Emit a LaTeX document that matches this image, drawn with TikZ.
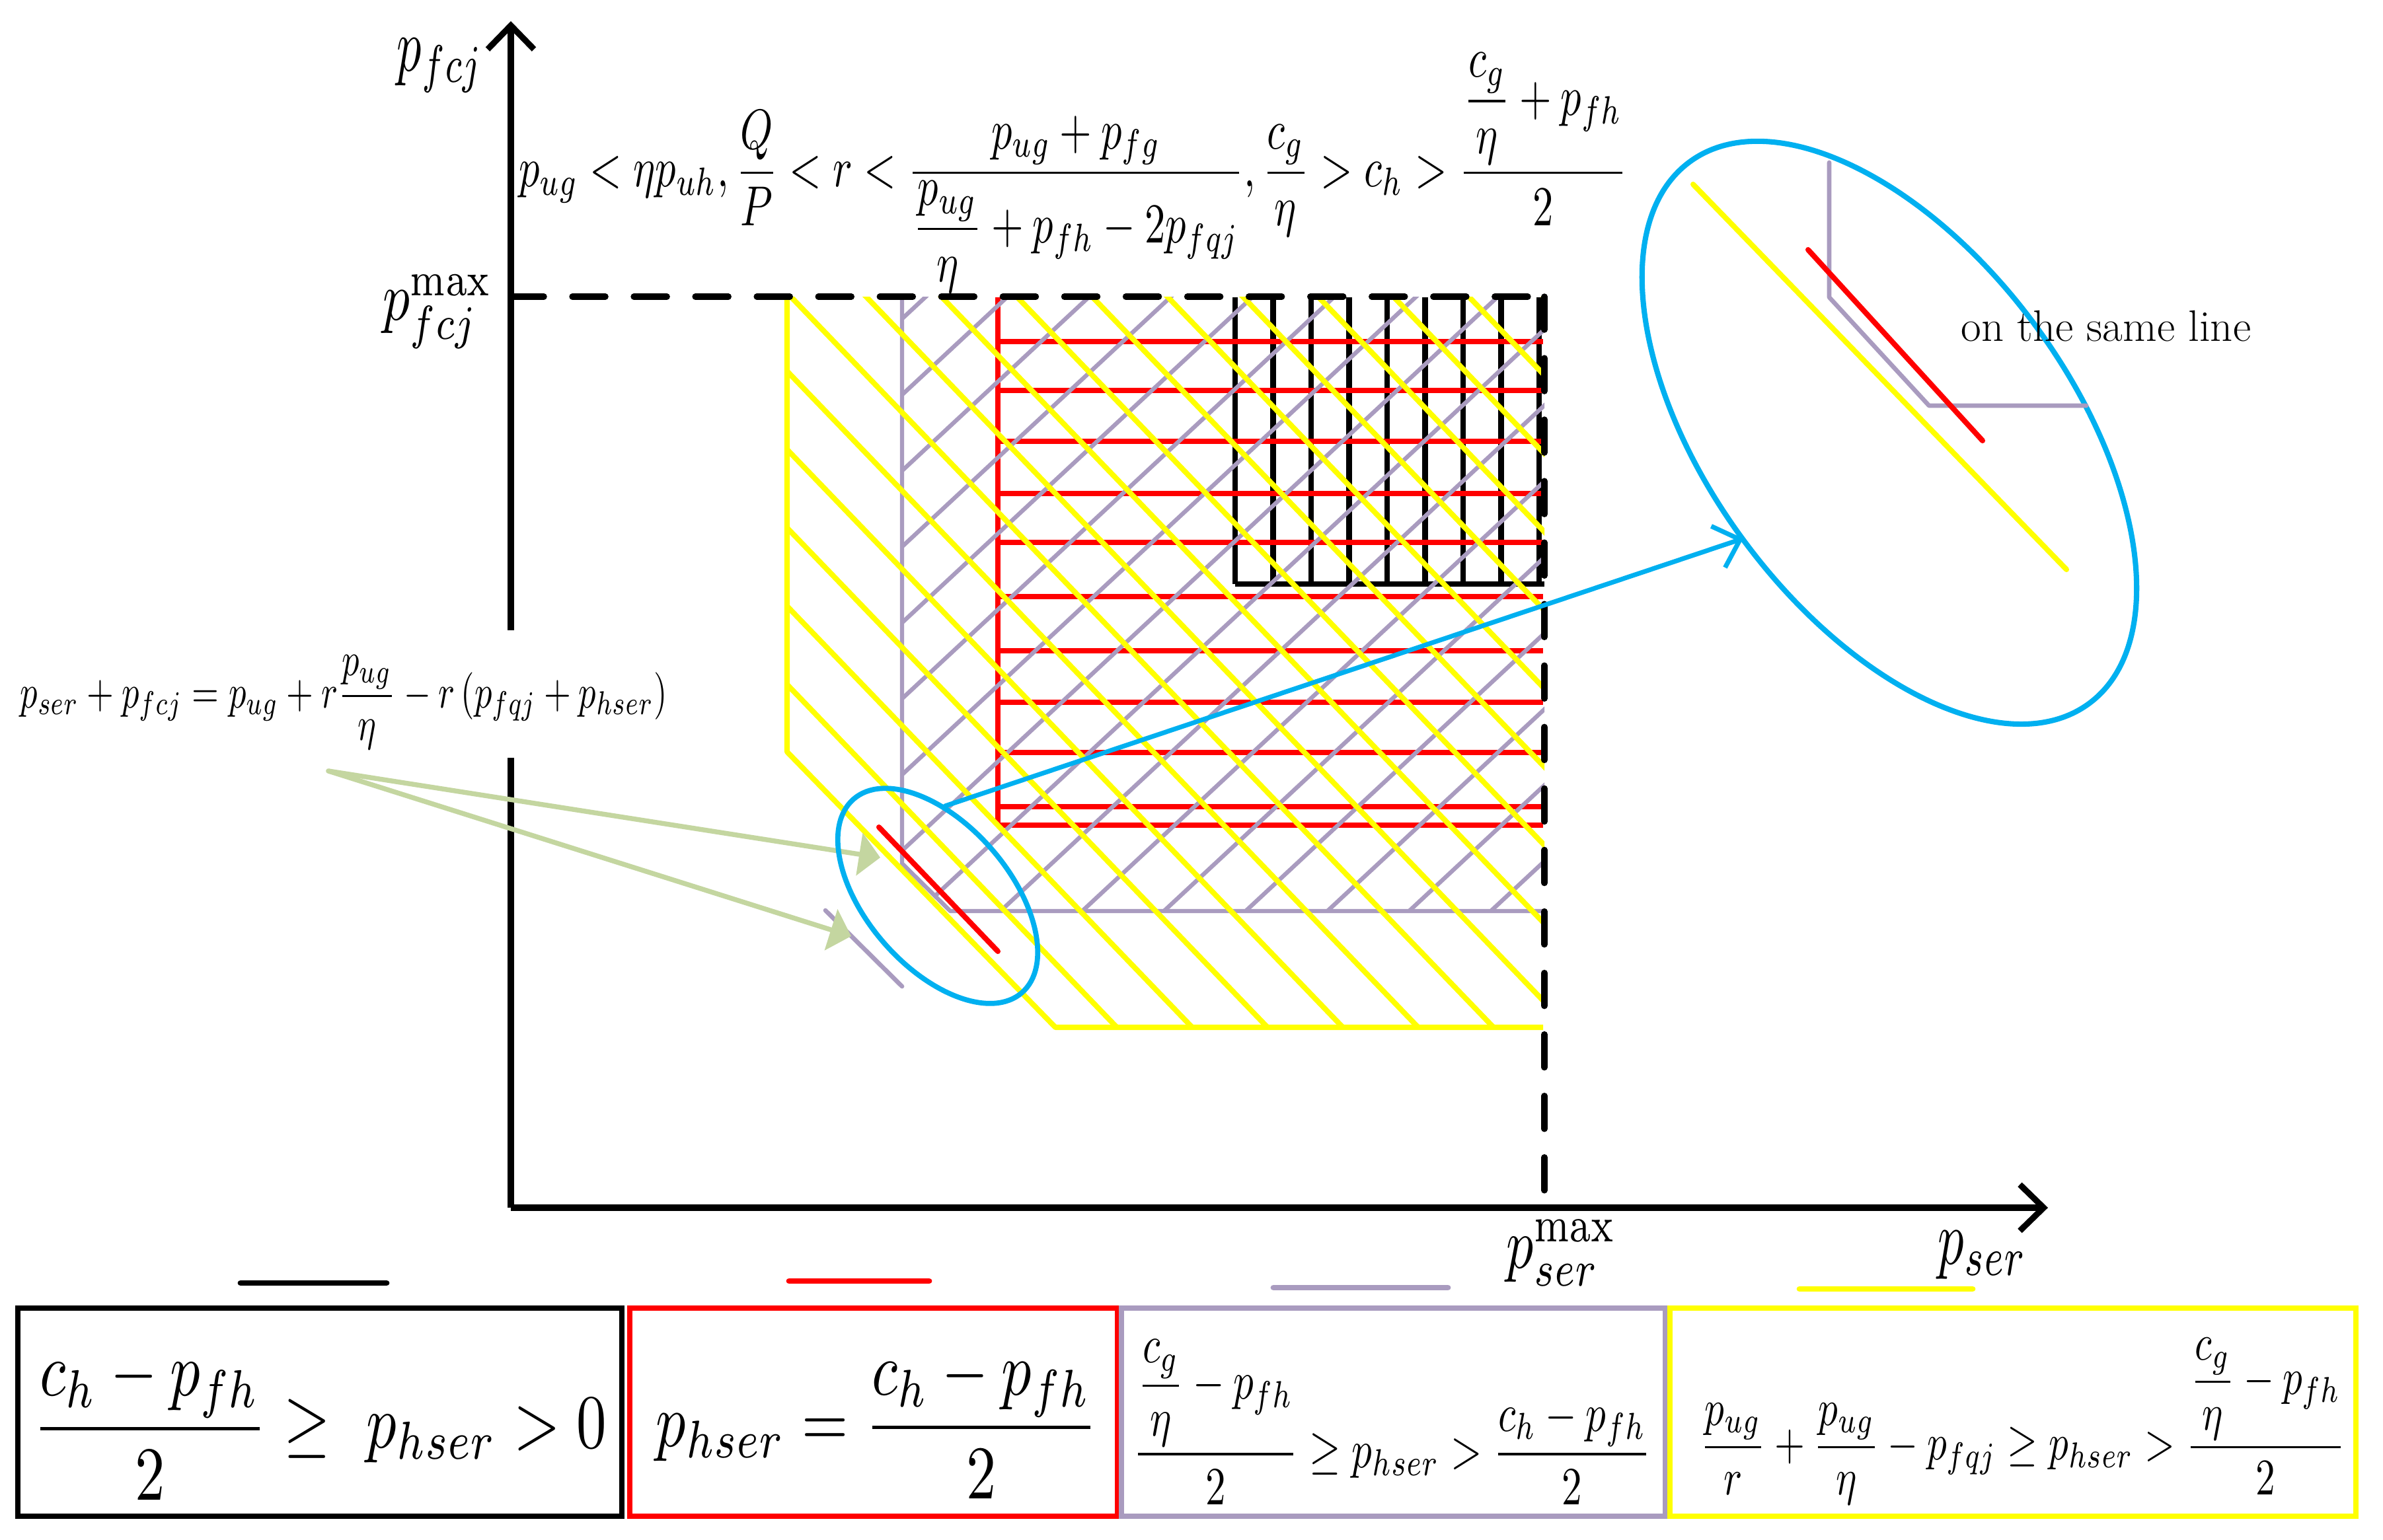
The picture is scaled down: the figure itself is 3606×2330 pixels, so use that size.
\documentclass[tikz,border=0pt]{standalone}
\usepackage{amsmath}
\usepackage{graphicx}
\usetikzlibrary{arrows.meta}
\definecolor{cpurple}{RGB}{169,155,191}
\definecolor{cyellow}{RGB}{255,255,0}
\definecolor{cred}{RGB}{255,0,0}
\definecolor{cblue}{RGB}{0,176,240}
\definecolor{cgreen}{RGB}{196,214,160}
\begin{document}
\begin{tikzpicture}[x=0.01cm,y=-0.01cm,
  axisline/.style={line width=2.6pt},
  dashline/.style={line width=2.7pt, dash pattern=on 0.5cm off 0.43cm, line cap=round},
  yhatch/.style={cyellow, line width=2.3pt},
  phatch/.style={cpurple, line width=1.8pt},
  rhatch/.style={cred, line width=2.2pt},
  khatch/.style={black, line width=2.3pt},
  blueline/.style={cblue, line width=2.2pt},
  greenarrow/.style={cgreen, line width=2.1pt, line cap=round, -{Triangle[length=0.32cm,width=0.64cm]}},
  legline/.style={line width=2.5pt, line cap=round},
  legbox/.style={line width=2.5pt},
  eqn/.style={inner sep=0pt, outer sep=0pt}
]
\fill[white] (0,0) rectangle (3606,2330);
\useasboundingbox (0,0) rectangle (3606,2330);

% ---------- black region ----------
\foreach \k in {0,...,8} {
  \draw[khatch] ({1869+57.5*\k},450) -- ({1869+57.5*\k},884);
}
\draw[khatch] (1869,884) -- (2337,884);

% ---------- red region ----------
\draw[rhatch] (1510,450) -- (1510,1249);
\foreach \yy in {517,591,668,747,821,903,985,1063,1139,1221,1249} {
  \draw[rhatch] (1510,\yy) -- (2335,\yy);
}

% ---------- purple region ----------
\begin{scope}
  \clip (1365,449) -- (1365,1307) -- (1438,1379) -- (2337,1379) -- (2337,449) -- cycle;
  \foreach \k in {-4,...,11} {
    \draw[phatch] (1300,{2212+115*\k-1209}) -- (2400,{2212+115*\k-2232});
  }
\end{scope}
\draw[phatch, line join=round] (1365,450) -- (1365,1307) -- (1438,1379) -- (2335,1379);

% ---------- yellow region ----------
\begin{scope}
  \clip (1191,449) -- (1191,1138) -- (1597,1555) -- (2337,1555) -- (2337,449) -- cycle;
  \foreach \k in {0,...,15} {
    \draw[yhatch] ({1690+114*\k+100},1659) -- ({1690+114*\k-1300},203);
  }
\end{scope}
\draw[yhatch, line join=round] (1191,450) -- (1191,1138) -- (1597,1555) -- (2335,1555);

% ---------- small marks in the small ellipse ----------
\draw[phatch, line width=1.9pt, line cap=round] (1249,1378) -- (1365,1493);
\draw[rhatch, line width=2.3pt, line cap=round] (1330,1252) -- (1510,1440);

% ---------- dashed limits ----------
\coordinate (dtl) at (773,449);
\coordinate (dtr) at (2337,449);
\coordinate (dbr) at (2337,1828);
\draw[dashline] (dtl) -- (dtr);
\draw[dashline] (dtr) -- (dbr);

% ---------- axes ----------
\coordinate (O) at (773,1828);
\coordinate (xend) at (3099,1828);
\coordinate (ytop) at (773,32);
\coordinate (gapb) at (773,1147);
\coordinate (gapt) at (773,954);
\draw[axisline, -{Straight Barb[length=0.36cm,width=0.70cm]}] (O) -- (xend);
\draw[axisline] (O) -- (gapb);
\draw[axisline, -{Straight Barb[length=0.36cm,width=0.70cm]}] (gapt) -- (ytop);

% ---------- axis labels ----------
\node[eqn] (lpf) at (666,99) {\resizebox*{1.30cm}{0.82cm}{$p_{fcj}$}};
\node[eqn] (lpfmax) at (662.5,472) {\resizebox*{1.65cm}{1.12cm}{$p_{fcj}^{\mathrm{max}}$}};
\node[eqn] (lpsmax) at (2363,1896.5) {\resizebox*{1.66cm}{0.99cm}{$p_{ser}^{\mathrm{max}}$}};
\node[eqn] (lps) at (3000,1899.5) {\resizebox*{1.34cm}{0.73cm}{$p_{ser}$}};

% ---------- top condition ----------
\node[eqn] (cond) at (1624,261.5) {\resizebox*{16.76cm}{3.63cm}{$\displaystyle p_{ug}<\eta p_{uh},\frac{Q}{P}<r<\frac{p_{ug}+p_{fg}}{\dfrac{p_{ug}}{\eta}+p_{fh}-2p_{fqj}},\frac{c_g}{\eta}>c_h>\frac{\dfrac{c_g}{\eta}+p_{fh}}{2}$}};

% ---------- line equation ----------
\node[eqn] (lineeq) at (520.5,1063) {\resizebox*{9.79cm}{1.42cm}{$\displaystyle p_{ser}+p_{fcj}=p_{ug}+r\frac{p_{ug}}{\eta}-r\left(p_{fqj}+p_{hser}\right)$}};

% ---------- green arrows ----------
\coordinate (gt) at (497,1167);
\coordinate (g1) at (1332,1298);
\coordinate (g2) at (1288,1417);
\draw[greenarrow] (gt) -- (g1);
\draw[greenarrow] (gt) -- (g2);

% ---------- ellipses ----------
\coordinate (se) at (1419,1356);
\coordinate (be) at (2859,655);
\draw[blueline, rotate around={-49:(se)}] (se) ellipse [x radius=1.94cm, y radius=1.08cm];
\draw[blueline, line width=2.3pt, rotate around={-53.6:(be)}] (be) ellipse [x radius=5.09cm, y radius=2.74cm];
\coordinate (bs) at (1430,1220);
\coordinate (bt) at (2638,815);
\draw[blueline, line width=2pt, line cap=round, -{Straight Barb[length=0.35cm,width=0.66cm]}] (bs) -- (bt);

% ---------- zoomed detail ----------
\draw[yhatch, line cap=round] (2562,279) -- (3127,862);
\draw[phatch, line width=1.9pt, line cap=round, line join=round] (2768,246) -- (2768,450) -- (2919,614) -- (3157,614);
\draw[rhatch, line width=2.3pt, line cap=round] (2736,378) -- (3000,667);
\node[eqn, font=\fontsize{19pt}{22pt}\selectfont] (same) at (3187,494) {on the same line};

% ---------- legend ----------
\draw[legline] (364,1942) -- (585,1942);
\draw[legline, cred] (1194,1939) -- (1406,1939);
\draw[legline, cpurple] (1927,1949) -- (2191,1949);
\draw[legline, cyellow] (2723,1951) -- (2985,1951);

\draw[legbox] (27,1980) rectangle (941,2295);
\draw[legbox, cred] (953,1980) rectangle (1691,2295);
\draw[legbox, cpurple] (1697,1980) rectangle (2520,2295);
\draw[legbox, cyellow] (2527,1980) rectangle (3565,2295);

\node[eqn] (leg1) at (484,2158) {\resizebox*{8.68cm}{2.25cm}{$\displaystyle \frac{c_h-p_{fh}}{2}\geq\ p_{hser}>0$}};
\node[eqn] (leg2) at (1327,2156.5) {\resizebox*{6.68cm}{2.23cm}{$\displaystyle p_{hser}=\frac{c_h-p_{fh}}{2}$}};
\node[eqn] (leg3) at (2106.5,2152.5) {\resizebox*{7.83cm}{2.49cm}{$\displaystyle \frac{\dfrac{c_g}{\eta}-p_{fh}}{2}\geq p_{hser}>\frac{c_h-p_{fh}}{2}$}};
\node[eqn] (leg4) at (3061,2151.5) {\resizebox*{9.76cm}{2.53cm}{$\displaystyle \frac{p_{ug}}{r}+\frac{p_{ug}}{\eta}-p_{fqj}\geq p_{hser}>\frac{\dfrac{c_g}{\eta}-p_{fh}}{2}$}};
\end{tikzpicture}
\end{document}
